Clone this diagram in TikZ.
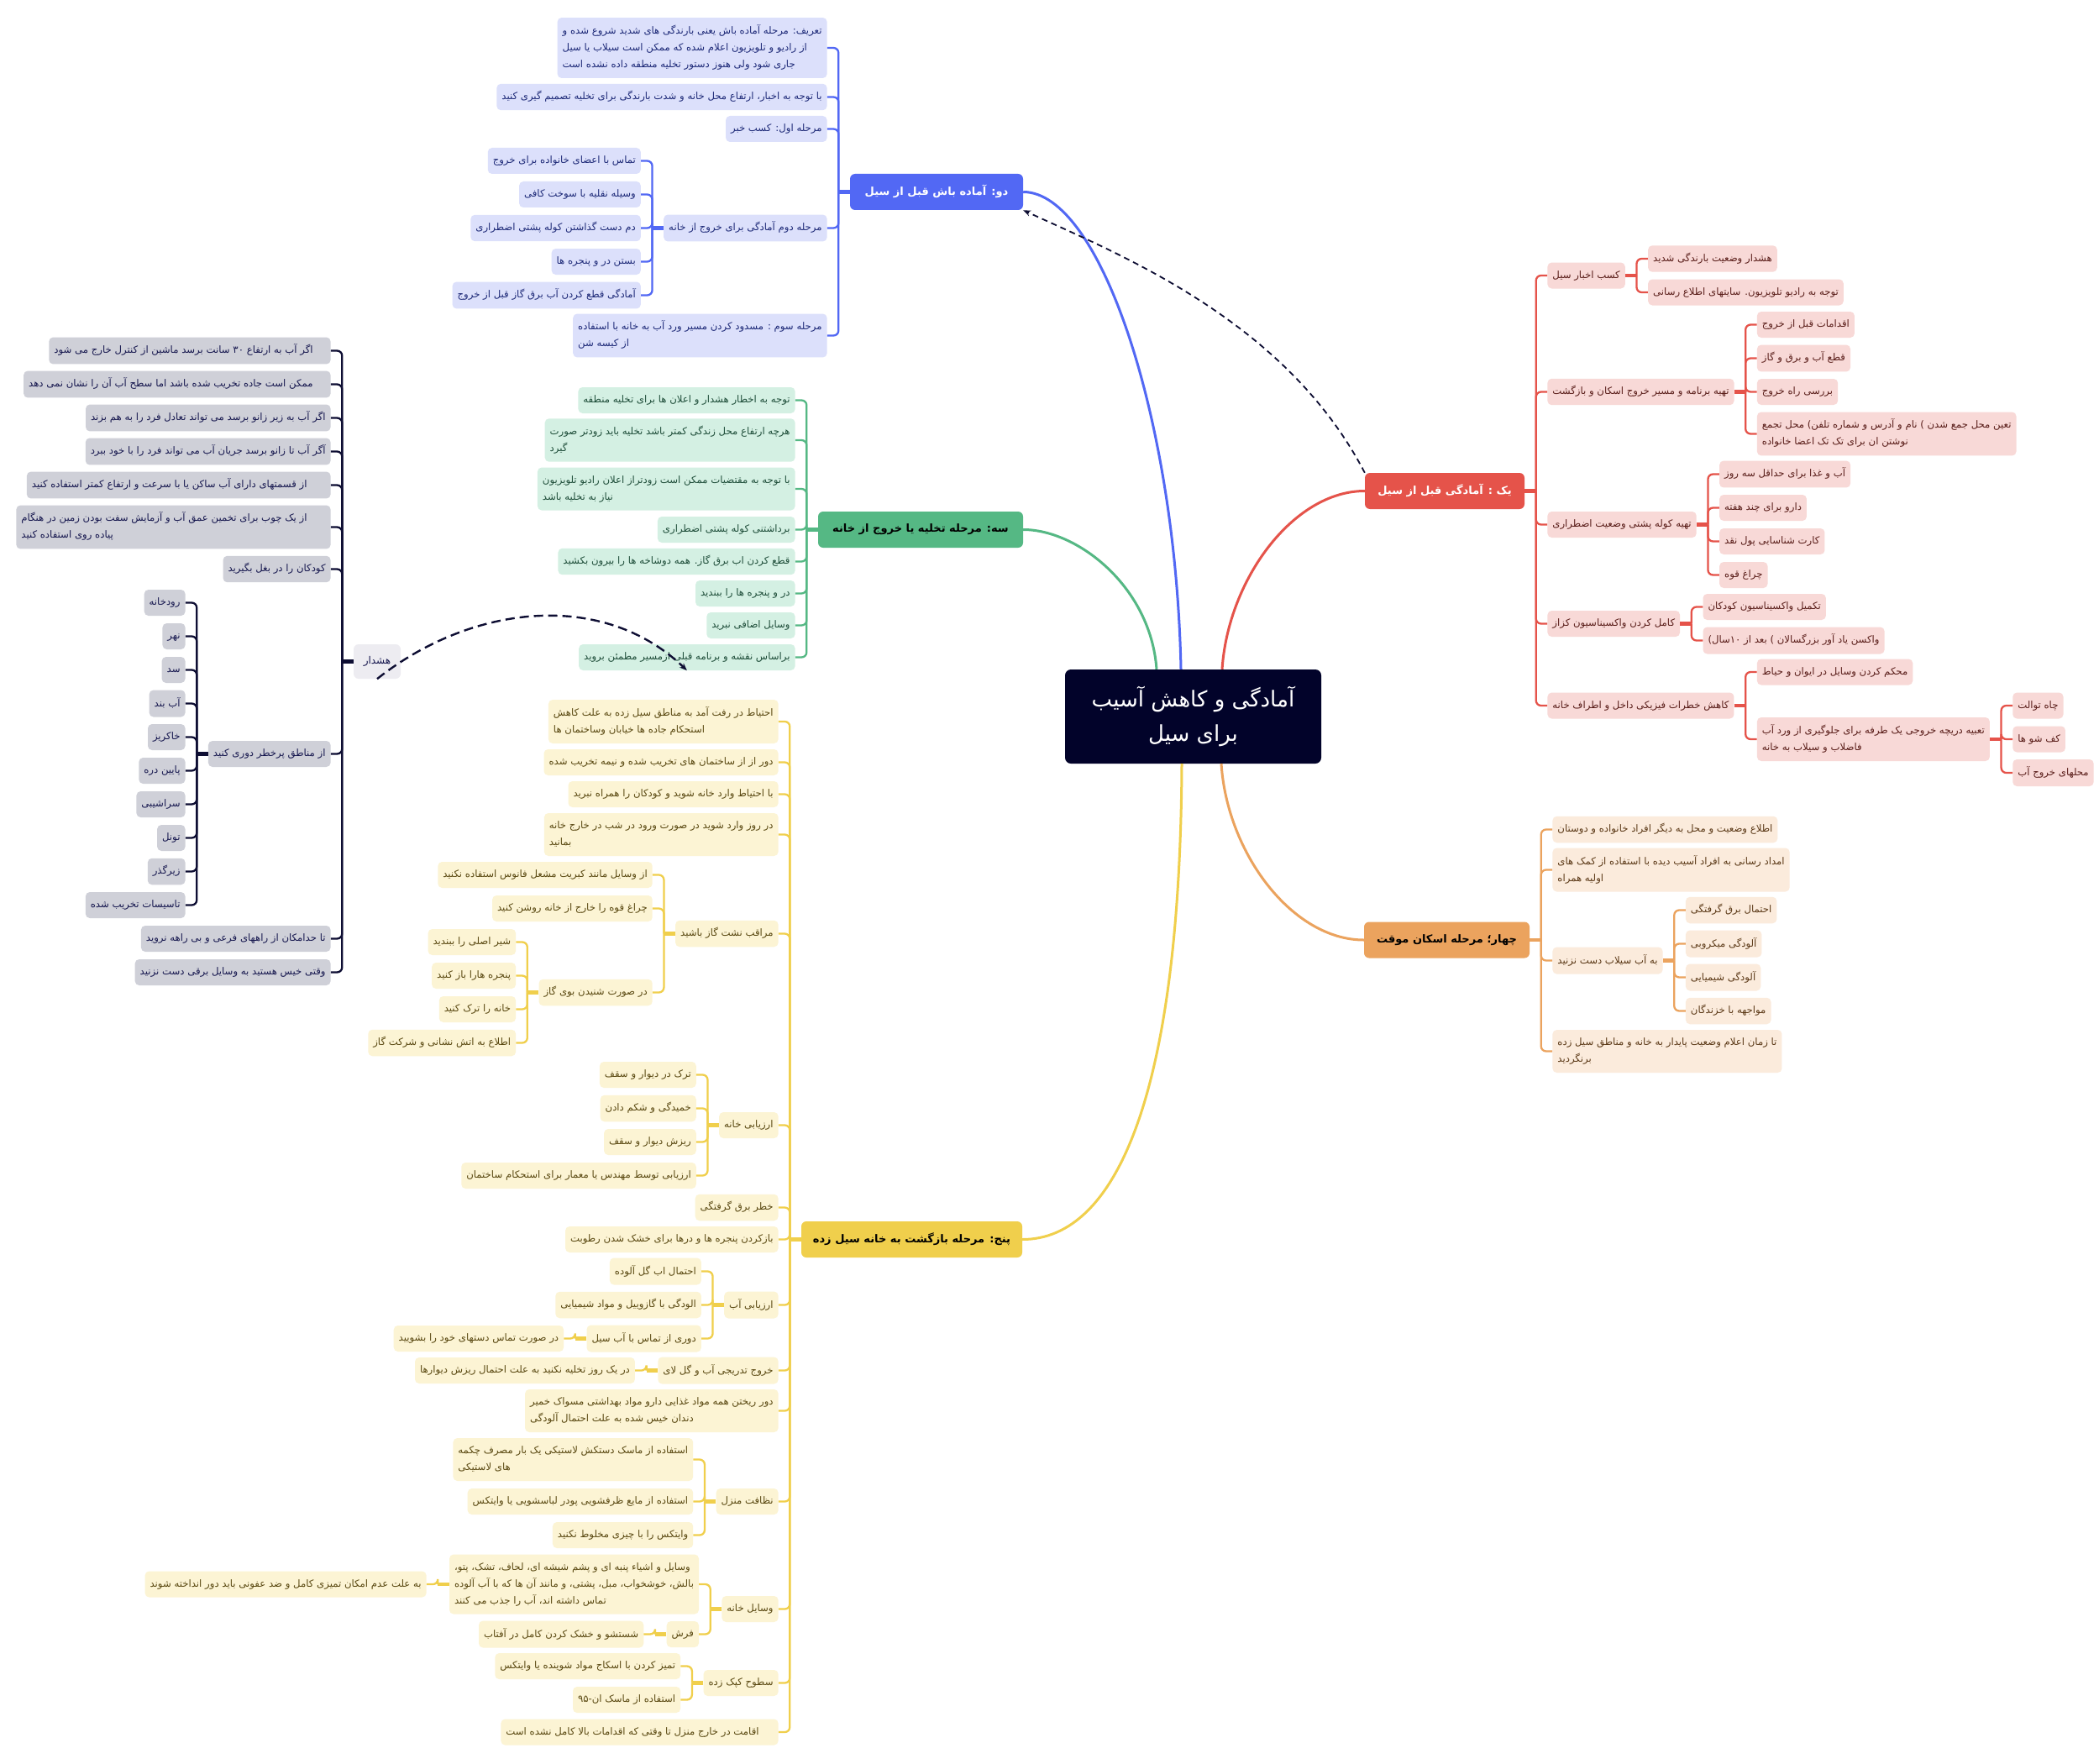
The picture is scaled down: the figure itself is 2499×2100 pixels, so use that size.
\documentclass[tikz,border=0pt]{standalone}
\usepackage{fontspec}
\usetikzlibrary{positioning,arrows.meta}
\newfontfamily\fa[Script=Arabic]{DejaVu Sans}
\TeXXeTstate=1
\newcommand\rtltext[1]{\beginR\vrule width 0pt height 10pt depth 4pt\relax#1\endR}

\definecolor{rootc}{HTML}{02032A}
\definecolor{bluemain}{HTML}{5268F4}
\definecolor{bluelt}{HTML}{DCE0FB}
\definecolor{bluetx}{HTML}{1E2A78}
\definecolor{greenmain}{HTML}{55B884}
\definecolor{greenlt}{HTML}{D4F0E3}
\definecolor{greentx}{HTML}{1F4E3A}
\definecolor{redmain}{HTML}{E5534A}
\definecolor{redlt}{HTML}{F8D9D7}
\definecolor{redtx}{HTML}{5A1E1A}
\definecolor{orangemain}{HTML}{EBA35E}
\definecolor{orangelt}{HTML}{FBEBDC}
\definecolor{orangetx}{HTML}{5C3A18}
\definecolor{yellowmain}{HTML}{F0CF4C}
\definecolor{yellowlt}{HTML}{FCF4D4}
\definecolor{yellowtx}{HTML}{5A4912}
\definecolor{graymain}{HTML}{0E0E33}
\definecolor{graylt}{HTML}{CFD0D8}
\definecolor{graytx}{HTML}{17184F}
\definecolor{warnfill}{HTML}{EDECF1}

\begin{document}
\begin{tikzpicture}[x=1pt,y=-1pt,
  leaf/.style={rounded corners=5pt,inner xsep=6pt,inner ysep=8.5pt,align=left,
    font=\fa\fontsize{11.7}{20}\selectfont},
  topic/.style={rounded corners=6pt,minimum height=43pt,inner sep=4pt,
    font=\fa\bfseries\fontsize{13}{18}\selectfont},
  bleaf/.style={leaf,fill=bluelt,text=bluetx},
  gleaf/.style={leaf,fill=greenlt,text=greentx},
  wleaf/.style={leaf,fill=graylt,text=graytx},
  rleaf/.style={leaf,fill=redlt,text=redtx},
  oleaf/.style={leaf,fill=orangelt,text=orangetx},
  yleaf/.style={leaf,fill=yellowlt,text=yellowtx},
  bline/.style={draw=bluemain,line width=2.3pt,rounded corners=6pt},
  gline/.style={draw=greenmain,line width=2.3pt,rounded corners=6pt},
  wline/.style={draw=graymain,line width=2.3pt,rounded corners=6pt},
  rline/.style={draw=redmain,line width=2.3pt,rounded corners=6pt},
  oline/.style={draw=orangemain,line width=2.3pt,rounded corners=6pt},
  yline/.style={draw=yellowmain,line width=2.3pt,rounded corners=6pt},
  stub/.style={line width=4.5pt},
  curve/.style={line width=3pt},
  relation/.style={draw=graymain,dashed,line width=1.8pt,dash pattern=on 7pt off 5pt,
    -{Stealth[length=9pt,width=7pt]}}
]
\fill[white] (0,0) rectangle (2499,2100);
\useasboundingbox (0,0) rectangle (2499,2100);

% centre
\node[fill=rootc,text=white,rounded corners=7pt,minimum width=305pt,minimum height=112pt,
  align=center,font=\fa\fontsize{26}{41}\selectfont] (root) at (1420.5,853)
  {\rtltext{آمادگی و کاهش آسیب}\\\rtltext{برای سیل}};

% two: alert before flood
\node[topic,fill=bluemain,text=white,minimum width=206pt] (blue) at (1115,228.5) {\rtltext{دو: آماده باش قبل از سیل}};
\node[bleaf,left=27pt of blue,yshift=171.5pt] (b1) {\rtltext{تعریف: مرحله آماده باش یعنی بارندگی های شدید شروع شده و}\\\rtltext{از رادیو و تلویزیون اعلام شده که ممکن است سیلاب یا سیل}\\\rtltext{جاری شود ولی هنوز دستور تخلیه منطقه داده نشده است}};
\node[bleaf,left=27pt of blue,yshift=113pt] (b2) {\rtltext{با توجه به اخبار، ارتفاع محل خانه و شدت بارندگی برای تخلیه تصمیم گیری کنید}};
\node[bleaf,left=27pt of blue,yshift=75pt] (b3) {\rtltext{مرحله اول: کسب خبر}};
\node[bleaf,left=27pt of blue,yshift=-43pt] (b4) {\rtltext{مرحله دوم آمادگی برای خروج از خانه}};
\node[bleaf,left=27pt of blue,yshift=-171pt] (b5) {\rtltext{مرحله سوم : مسدود کردن مسیر ورد آب به خانه با  استفاده}\\\rtltext{از کیسه شن}};
\node[bleaf,left=27pt of b4,yshift=80pt] (b4a) {\rtltext{تماس با اعضای خانواده برای خروج}};
\node[bleaf,left=27pt of b4,yshift=40pt] (b4b) {\rtltext{وسیله نقلیه با سوخت کافی}};
\node[bleaf,left=27pt of b4] (b4c) {\rtltext{دم دست گذاشتن کوله پشتی اضطراری}};
\node[bleaf,left=27pt of b4,yshift=-40pt] (b4d) {\rtltext{بستن در و پنجره ها}};
\node[bleaf,left=27pt of b4,yshift=-80pt] (b4e) {\rtltext{آمادگی قطع کردن آب برق گاز قبل از خروج}};

% three: evacuation
\node[topic,fill=greenmain,text=black,minimum width=244pt] (green) at (1096,630.5) {\rtltext{سه: مرحله تخلیه یا خروج از خانه}};
\node[gleaf,left=27pt of green,yshift=154pt] (g1) {\rtltext{توجه به اخطار هشدار و اعلان ها برای تخلیه منطقه}};
\node[gleaf,left=27pt of green,yshift=106.5pt] (g2) {\rtltext{هرچه ارتفاع محل زندگی کمتر باشد تخلیه باید زودتر صورت}\\\rtltext{گیرد}};
\node[gleaf,left=27pt of green,yshift=48.5pt] (g3) {\rtltext{با توجه به مقتضیات ممکن است زودتراز اعلان رادیو تلویزیون}\\\rtltext{نیاز به تخلیه باشد}};
\node[gleaf,left=27pt of green] (g4) {\rtltext{برداشتنی کوله پشتی اضطراری}};
\node[gleaf,left=27pt of green,yshift=-38pt] (g5) {\rtltext{قطع کردن اب برق گاز. همه دوشاخه ها را بیرون بکشید}};
\node[gleaf,left=27pt of green,yshift=-76pt] (g6) {\rtltext{در و پنجره ها را  ببندید}};
\node[gleaf,left=27pt of green,yshift=-114pt] (g7) {\rtltext{وسایل اضافی نبرید}};
\node[gleaf,left=27pt of green,yshift=-152pt] (g8) {\rtltext{براساس نقشه و برنامه قبلی ازمسیر مطمئن بروید}};

% warning
\node[fill=warnfill,text=graytx,rounded corners=6pt,minimum width=56pt,minimum height=41pt,
  inner sep=2pt,font=\fa\fontsize{12}{20}\selectfont] (warn) at (449,787.5) {\rtltext{هشدار}};
\node[wleaf,left=27pt of warn,yshift=370pt] (w1) {\rtltext{\kern15pt اگر آب به ارتفاع ۳۰ سانت برسد ماشین از کنترل خارج می شود}};
\node[wleaf,left=27pt of warn,yshift=330pt] (w2) {\rtltext{\kern15pt ممکن است جاده تخریب شده باشد اما سطح آب آن را نشان نمی دهد}};
\node[wleaf,left=27pt of warn,yshift=290pt] (w3) {\rtltext{اگر آب به زیر زانو برسد می تواند تعادل فرد را به هم بزند}};
\node[wleaf,left=27pt of warn,yshift=250pt] (w4) {\rtltext{آگر آب تا زانو برسد جریان آب می تواند فرد را با خود ببرد}};
\node[wleaf,left=27pt of warn,yshift=210pt] (w5) {\rtltext{\kern22pt از قسمتهای دارای آب ساکن یا با سرعت و ارتفاع کمتر استفاده کنید}};
\node[wleaf,left=27pt of warn,yshift=160pt] (w6) {\rtltext{\kern22pt از یک چوب برای تخمین عمق آب و آزمایش سفت بودن زمین در هنگام}\\\rtltext{پیاده روی استفاده کنید}};
\node[wleaf,left=27pt of warn,yshift=110pt] (w7) {\rtltext{کودکان را در بغل بگیرید}};
\node[wleaf,left=27pt of warn,yshift=-110pt] (w8) {\rtltext{از مناطق پرخطر دوری کنید}};
\node[wleaf,left=27pt of warn,yshift=-330pt] (w9) {\rtltext{تا حدامکان از راههای فرعی و بی راهه نروید}};
\node[wleaf,left=27pt of warn,yshift=-370pt] (w10) {\rtltext{وقتی خیس هستید به وسایل برقی دست نزنید}};
\node[wleaf,left=27pt of w8,yshift=180pt] (w8a) {\rtltext{رودخانه}};
\node[wleaf,left=27pt of w8,yshift=140pt] (w8b) {\rtltext{نهر}};
\node[wleaf,left=27pt of w8,yshift=100pt] (w8c) {\rtltext{سد}};
\node[wleaf,left=27pt of w8,yshift=60pt] (w8d) {\rtltext{آب بند}};
\node[wleaf,left=27pt of w8,yshift=20pt] (w8e) {\rtltext{خاکریز}};
\node[wleaf,left=27pt of w8,yshift=-20pt] (w8f) {\rtltext{پایین دره}};
\node[wleaf,left=27pt of w8,yshift=-60pt] (w8g) {\rtltext{سراشیبی}};
\node[wleaf,left=27pt of w8,yshift=-100pt] (w8h) {\rtltext{تونل}};
\node[wleaf,left=27pt of w8,yshift=-140pt] (w8i) {\rtltext{زیرگذر}};
\node[wleaf,left=27pt of w8,yshift=-180pt] (w8j) {\rtltext{تاسیسات تخریب شده}};

% one: readiness before flood
\node[topic,fill=redmain,text=white,minimum width=190pt] (red) at (1720,584.5) {\rtltext{یک : آمادگی قبل از سیل}};
\node[rleaf,right=27pt of red,yshift=256.5pt] (r1) {\rtltext{کسب اخبار سیل}};
\node[rleaf,right=27pt of red,yshift=118pt] (r2) {\rtltext{تهیه برنامه و مسیر خروج اسکان و بازگشت}};
\node[rleaf,right=27pt of red,yshift=-40pt] (r3) {\rtltext{تهیه کوله پشتی وضعیت اضطراری}};
\node[rleaf,right=27pt of red,yshift=-158pt] (r4) {\rtltext{کامل کردن واکسیناسیون کزاز}};
\node[rleaf,right=27pt of red,yshift=-255.5pt] (r5) {\rtltext{کاهش خطرات فیزیکی داخل و اطراف خانه}};
\node[rleaf,right=27pt of r1,yshift=20pt] (r1a) {\rtltext{هشدار وضعیت بارندگی شدید}};
\node[rleaf,right=27pt of r1,yshift=-20pt] (r1b) {\rtltext{توجه به رادیو تلویزیون. سایتهای اطلاع رسانی}};
\node[rleaf,right=27pt of r2,yshift=80pt] (r2a) {\rtltext{اقدامات قبل از خروج}};
\node[rleaf,right=27pt of r2,yshift=40pt] (r2b) {\rtltext{قطع آب و برق و گاز}};
\node[rleaf,right=27pt of r2] (r2c) {\rtltext{بررسی راه خروج}};
\node[rleaf,right=27pt of r2,yshift=-50pt] (r2d) {\rtltext{تعین محل جمع شدن ) نام و آدرس و شماره تلفن) محل تجمع}\\\rtltext{نوشتن ان برای تک تک اعضا خانواده}};
\node[rleaf,right=27pt of r3,yshift=60pt] (r3a) {\rtltext{آب و غذا برای حداقل سه روز}};
\node[rleaf,right=27pt of r3,yshift=20pt] (r3b) {\rtltext{دارو برای چند هفته}};
\node[rleaf,right=27pt of r3,yshift=-20pt] (r3c) {\rtltext{کارت شناسایی پول نقد}};
\node[rleaf,right=27pt of r3,yshift=-60pt] (r3d) {\rtltext{چراغ قوه}};
\node[rleaf,right=27pt of r4,yshift=20pt] (r4a) {\rtltext{تکمیل واکسیناسیون کودکان}};
\node[rleaf,right=27pt of r4,yshift=-20pt] (r4b) {\rtltext{واکسن یاد آور بزرگسالان ) بعد از ۱۰سال)}};
\node[rleaf,right=27pt of r5,yshift=40pt] (r5a) {\rtltext{محکم کردن وسایل در ایوان و حیاط}};
\node[rleaf,right=27pt of r5,yshift=-40pt] (r5b) {\rtltext{تعبیه دریچه خروجی یک طرفه برای جلوگیری از ورد آب}\\\rtltext{فاضلاب و سیلاب به خانه}};
\node[rleaf,right=27pt of r5b,yshift=40pt] (r5b1) {\rtltext{چاه توالت}};
\node[rleaf,right=27pt of r5b] (r5b2) {\rtltext{کف شو ها}};
\node[rleaf,right=27pt of r5b,yshift=-40pt] (r5b3) {\rtltext{محلهای خروج آب}};

% four: temporary shelter
\node[topic,fill=orangemain,text=black,minimum width=197pt] (orange) at (1722.5,1119) {\rtltext{چهار؛ مرحله اسکان موقت}};
\node[oleaf,right=27pt of orange,yshift=131.5pt] (o1) {\rtltext{اطلاع وضعیت و محل به دیگر افراد خانواده و دوستان}};
\node[oleaf,right=27pt of orange,yshift=83.5pt] (o2) {\rtltext{امداد رسانی به افراد آسیب دیده با استفاده از کمک های}\\\rtltext{اولیه همراه}};
\node[oleaf,right=27pt of orange,yshift=-24.5pt] (o3) {\rtltext{به آب سیلاب دست نزنید}};
\node[oleaf,right=27pt of orange,yshift=-132.5pt] (o4) {\rtltext{تا زمان اعلام وضعیت پایدار به خانه و مناطق سیل زده}\\\rtltext{برنگردید}};
\node[oleaf,right=27pt of o3,yshift=60pt] (o3a) {\rtltext{احتمال برق گرفتگی}};
\node[oleaf,right=27pt of o3,yshift=20pt] (o3b) {\rtltext{آلودگی میکروبی}};
\node[oleaf,right=27pt of o3,yshift=-20pt] (o3c) {\rtltext{آلودگی شیمیایی}};
\node[oleaf,right=27pt of o3,yshift=-60pt] (o3d) {\rtltext{مواجهه با خزندگان}};

% five: returning home
\node[topic,fill=yellowmain,text=black,minimum width=263pt] (yellow) at (1085.5,1475.5) {\rtltext{پنج: مرحله بازگشت به خانه سیل زده}};
\node[yleaf,left=27pt of yellow,yshift=616.5pt] (y1) {\rtltext{احتیاط در رفت آمد به مناطق سیل زده به علت کاهش}\\\rtltext{استحکام جاده ها خیابان وساختمان ها}};
\node[yleaf,left=27pt of yellow,yshift=568pt] (y2) {\rtltext{دور از از ساختمان های تخریب شده و نیمه تخریب شده}};
\node[yleaf,left=27pt of yellow,yshift=530pt] (y3) {\rtltext{با احتیاط وارد خانه شوید و کودکان را همراه نبرید}};
\node[yleaf,left=27pt of yellow,yshift=482pt] (y4) {\rtltext{در روز وارد شوید در صورت ورود در شب در خارج خانه}\\\rtltext{بمانید}};
\node[yleaf,left=27pt of yellow,yshift=364pt] (y5) {\rtltext{مراقب نشت گاز باشید}};
\node[yleaf,left=27pt of yellow,yshift=136pt] (y6) {\rtltext{ارزیابی خانه}};
\node[yleaf,left=27pt of yellow,yshift=38pt] (y7) {\rtltext{خطر برق گرفتگی}};
\node[yleaf,left=27pt of yellow] (y8) {\rtltext{بازکردن پنجره ها و درها برای خشک شدن رطوبت}};
\node[yleaf,left=27pt of yellow,yshift=-78pt] (y9) {\rtltext{ارزیابی آب}};
\node[yleaf,left=27pt of yellow,yshift=-156pt] (y10) {\rtltext{خروج تدریجی آب و گل لای}};
\node[yleaf,left=27pt of yellow,yshift=-204pt] (y11) {\rtltext{دور ریختن همه مواد غذایی دارو مواد بهداشتی مسواک خمیر}\\\rtltext{دندان خیس شده به علت احتمال آلودگی}};
\node[yleaf,left=27pt of yellow,yshift=-312pt] (y12) {\rtltext{نظافت منزل}};
\node[yleaf,left=27pt of yellow,yshift=-440pt] (y13) {\rtltext{وسایل خانه}};
\node[yleaf,left=27pt of yellow,yshift=-528pt] (y14) {\rtltext{سطوح کپک زده}};
\node[yleaf,left=27pt of yellow,yshift=-586.5pt] (y15) {\rtltext{\kern17pt اقامت در خارج منزل تا وقتی که اقدامات بالا کامل نشده است}};
\node[yleaf,left=27pt of y5,yshift=70pt] (y5a) {\rtltext{از وسایل مانند کبریت مشعل فانوس استفاده نکنید}};
\node[yleaf,left=27pt of y5,yshift=30pt] (y5b) {\rtltext{چراغ قوه را خارج از خانه روشن کنید}};
\node[yleaf,left=27pt of y5,yshift=-70pt] (y5c) {\rtltext{در صورت شنیدن بوی گاز}};
\node[yleaf,left=27pt of y5c,yshift=60pt] (y5c1) {\rtltext{شیر اصلی را ببندید}};
\node[yleaf,left=27pt of y5c,yshift=20pt] (y5c2) {\rtltext{پنجره هارا باز کنید}};
\node[yleaf,left=27pt of y5c,yshift=-20pt] (y5c3) {\rtltext{خانه را ترک کنید}};
\node[yleaf,left=27pt of y5c,yshift=-60pt] (y5c4) {\rtltext{اطلاع به اتش نشانی و شرکت گاز}};
\node[yleaf,left=27pt of y6,yshift=60pt] (y6a) {\rtltext{ترک در دیوار و سقف}};
\node[yleaf,left=27pt of y6,yshift=20pt] (y6b) {\rtltext{خمیدگی و شکم دادن}};
\node[yleaf,left=27pt of y6,yshift=-20pt] (y6c) {\rtltext{ریزش دیوار و سقف}};
\node[yleaf,left=27pt of y6,yshift=-60pt] (y6d) {\rtltext{ارزیابی توسط مهندس یا معمار برای استحکام ساختمان}};
\node[yleaf,left=27pt of y9,yshift=40pt] (y9a) {\rtltext{احتمال اب گل آلوده}};
\node[yleaf,left=27pt of y9] (y9b) {\rtltext{الودگی با گازوییل و مواد شیمیایی}};
\node[yleaf,left=27pt of y9,yshift=-40pt] (y9c) {\rtltext{دوری از تماس با آب سیل}};
\node[yleaf,left=27pt of y9c] (y9c1) {\rtltext{در صورت تماس دستهای خود را  بشویید}};
\node[yleaf,left=27pt of y10] (y10a) {\rtltext{در یک روز تخلیه نکنید به علت احتمال ریزش دیوارها}};
\node[yleaf,left=27pt of y12,yshift=50pt] (y12a) {\rtltext{استفاده از ماسک  دستکش لاستیکی یک بار مصرف چکمه}\\\rtltext{های لاستیکی}};
\node[yleaf,left=27pt of y12] (y12b) {\rtltext{استفاده از مایع ظرفشویی پودر لباسشویی یا وایتکس}};
\node[yleaf,left=27pt of y12,yshift=-40pt] (y12c) {\rtltext{وایتکس را با چیزی مخلوط نکنید}};
\node[yleaf,left=27pt of y13,yshift=29.5pt] (y13a) {\rtltext{وسایل و اشیاء پنبه ای و پشم شیشه ای، لحاف، تشک، پتو،}\\\rtltext{بالش، خوشخواب، مبل، پشتی، و مانند آن ها که با آب آلوده}\\\rtltext{تماس داشته اند، آب را جذب می کنند}};
\node[yleaf,left=27pt of y13,yshift=-30pt] (y13b) {\rtltext{فرش}};
\node[yleaf,left=27pt of y13a] (y13a1) {\rtltext{به علت عدم امکان تمیزی کامل و ضد عفونی باید دور انداخته شوند}};
\node[yleaf,left=27pt of y13b] (y13b1) {\rtltext{شستشو و خشک کردن کامل در آفتاب}};
\node[yleaf,left=27pt of y14,yshift=20pt] (y14a) {\rtltext{تمیز کردن با اسکاج مواد شوینده یا وایتکس}};
\node[yleaf,left=27pt of y14,yshift=-20pt] (y14b) {\rtltext{استفاده از ماسک ان-۹۵}};

% curves from the centre
\draw[bline,curve] ([xshift=-14.5pt]root.north) .. controls +(-6,-297) and +(92,0) .. (blue.east);
\draw[gline,curve] ([xshift=-43.5pt]root.north) .. controls +(-7,-98) and +(65,0) .. (green.east);
\draw[rline,curve] ([xshift=34.5pt]root.north) .. controls +(7,-107) and +(-85,0) .. (red.west);
\draw[oline,curve] ([xshift=33.5pt]root.south) .. controls +(7,107) and +(-85,0) .. (orange.west);
\draw[yline,curve] ([xshift=-13.5pt]root.south) .. controls +(-2,391) and +(113,0) .. (yellow.east);

% branches, left side
\draw[bline,stub] (blue.west) -- ++(-13.5,0);
\foreach \n in {b1,b2,b3,b4,b5} \draw[bline] (blue.west) ++(-13.5,0) |- (\n.east);
\draw[bline,stub] (b4.west) -- ++(-13.5,0);
\foreach \n in {b4a,b4b,b4c,b4d,b4e} \draw[bline] (b4.west) ++(-13.5,0) |- (\n.east);

\draw[gline,stub] (green.west) -- ++(-13.5,0);
\foreach \n in {g1,g2,g3,g4,g5,g6,g7,g8} \draw[gline] (green.west) ++(-13.5,0) |- (\n.east);

\draw[wline,stub] (warn.west) -- ++(-13.5,0);
\foreach \n in {w1,w2,w3,w4,w5,w6,w7,w8,w9,w10} \draw[wline] (warn.west) ++(-13.5,0) |- (\n.east);
\draw[wline,stub] (w8.west) -- ++(-13.5,0);
\foreach \n in {w8a,w8b,w8c,w8d,w8e,w8f,w8g,w8h,w8i,w8j} \draw[wline] (w8.west) ++(-13.5,0) |- (\n.east);

\draw[yline,stub] (yellow.west) -- ++(-13.5,0);
\foreach \n in {y1,y2,y3,y4,y5,y6,y7,y8,y9,y10,y11,y12,y13,y14,y15} \draw[yline] (yellow.west) ++(-13.5,0) |- (\n.east);
\foreach \p/\c in {y5/{y5a,y5b,y5c},y5c/{y5c1,y5c2,y5c3,y5c4},y6/{y6a,y6b,y6c,y6d},y9/{y9a,y9b,y9c},y9c/{y9c1},y10/{y10a},y12/{y12a,y12b,y12c},y13/{y13a,y13b},y13a/{y13a1},y13b/{y13b1},y14/{y14a,y14b}}{
  \draw[yline,stub] (\p.west) -- ++(-13.5,0);
  \foreach \n in \c \draw[yline] (\p.west) ++(-13.5,0) |- (\n.east);
}

% branches, right side
\draw[rline,stub] (red.east) -- ++(13.5,0);
\foreach \n in {r1,r2,r3,r4,r5} \draw[rline] (red.east) ++(13.5,0) |- (\n.west);
\foreach \p/\c in {r1/{r1a,r1b},r2/{r2a,r2b,r2c,r2d},r3/{r3a,r3b,r3c,r3d},r4/{r4a,r4b},r5/{r5a,r5b},r5b/{r5b1,r5b2,r5b3}}{
  \draw[rline,stub] (\p.east) -- ++(13.5,0);
  \foreach \n in \c \draw[rline] (\p.east) ++(13.5,0) |- (\n.west);
}

\draw[oline,stub] (orange.east) -- ++(13.5,0);
\foreach \n in {o1,o2,o3,o4} \draw[oline] (orange.east) ++(13.5,0) |- (\n.west);
\draw[oline,stub] (o3.east) -- ++(13.5,0);
\foreach \n in {o3a,o3b,o3c,o3d} \draw[oline] (o3.east) ++(13.5,0) |- (\n.west);

% dashed relations
\draw[relation] (red.north west) .. controls +(-95,-183) and +(112,52) .. (blue.south east);
\draw[relation,line width=2.4pt,dash pattern=on 11pt off 6pt] (warn.south) .. controls +(111,-88) and +(-101,-97) .. (g8.south);
\end{tikzpicture}
\end{document}
